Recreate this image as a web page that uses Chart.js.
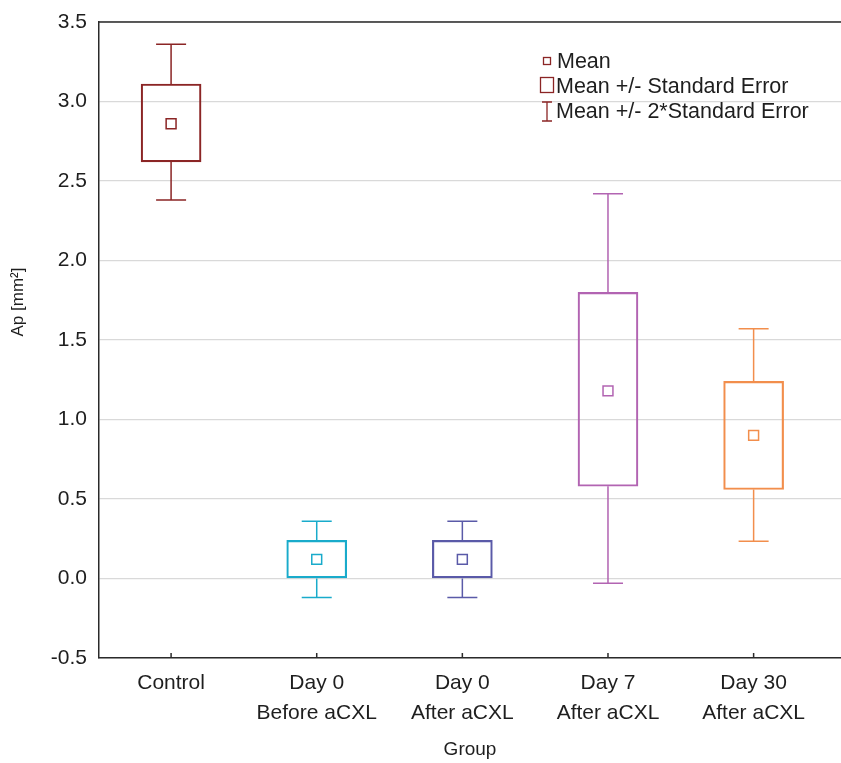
<!DOCTYPE html>
<html>
<head>
<meta charset="utf-8">
<script src="https://cdn.jsdelivr.net/npm/chart.js@4.4.1/dist/chart.umd.min.js"></script>
<style>
  html, body { margin: 0; padding: 0; background: #ffffff; overflow: hidden; }
  #wrap { width: 841px; height: 763px; position: relative; }
</style>
</head>
<body>
<div id="wrap"><canvas id="c" width="841" height="763"></canvas></div>
<script>
// ---- data ----
const categories = [['Control'], ['Day 0', 'Before aCXL'], ['Day 0', 'After aCXL'], ['Day 7', 'After aCXL'], ['Day 30', 'After aCXL']];
const means   = [2.86, 0.12, 0.12, 1.18, 0.90];
const seLow   = [2.62, 0.00, 0.00, 0.58, 0.56];
const seHigh  = [3.11, 0.24, 0.24, 1.80, 1.24];
const se2Low  = [2.38, -0.12, -0.12, -0.03, 0.235];
const se2High = [3.36, 0.36, 0.36, 2.42, 1.57];
const yTicks  = [-0.5, 0.0, 0.5, 1.0, 1.5, 2.0, 2.5, 3.0, 3.5];
const colors  = ['#8b2525', '#19abcb', '#5a5aa8', '#b264b2', '#f28e4c'];
const legendLabels = ['Mean', 'Mean +/- Standard Error', 'Mean +/- 2*Standard Error'];
const yTitle = 'Ap [mm²]';

const FONT = '"Liberation Sans", Arial, sans-serif';
const positions = categories.map((c, i) => i + 1);

const whiskerPlugin = {
  id: 'whiskers',
  beforeDatasetsDraw(chart) {
    const ctx = chart.ctx, xs = chart.scales.x, ys = chart.scales.y;
    ctx.save();
    ctx.lineWidth = 1.5;
    positions.forEach((p, i) => {
      const x = xs.getPixelForValue(p);
      const cap = 15;
      ctx.strokeStyle = colors[i];
      ctx.beginPath();
      ctx.moveTo(x, ys.getPixelForValue(seHigh[i]));
      ctx.lineTo(x, ys.getPixelForValue(se2High[i]));
      ctx.moveTo(x - cap, ys.getPixelForValue(se2High[i]));
      ctx.lineTo(x + cap, ys.getPixelForValue(se2High[i]));
      ctx.moveTo(x, ys.getPixelForValue(seLow[i]));
      ctx.lineTo(x, ys.getPixelForValue(se2Low[i]));
      ctx.moveTo(x - cap, ys.getPixelForValue(se2Low[i]));
      ctx.lineTo(x + cap, ys.getPixelForValue(se2Low[i]));
      ctx.stroke();
    });
    ctx.restore();
  },
  afterDraw(chart) {
    const ctx = chart.ctx, a = chart.chartArea, xs = chart.scales.x;
    ctx.save();
    // top frame line
    ctx.strokeStyle = '#2a2a2a';
    ctx.lineWidth = 1.5;
    ctx.beginPath();
    ctx.moveTo(a.left, a.top);
    ctx.lineTo(chart.width, a.top);
    ctx.stroke();
    // inward x tick marks
    ctx.beginPath();
    positions.forEach(p => {
      const x = xs.getPixelForValue(p);
      ctx.moveTo(x, a.bottom);
      ctx.lineTo(x, a.bottom - 5);
    });
    ctx.stroke();
    // y axis title
    ctx.save();
    ctx.translate(18, 302);
    ctx.rotate(-Math.PI / 2);
    ctx.fillStyle = '#1e1e1e';
    ctx.font = '17px ' + FONT;
    ctx.textAlign = 'center';
    ctx.textBaseline = 'middle';
    ctx.fillText(yTitle, 0, 0);
    ctx.restore();
    // legend
    const lc = colors[0];
    ctx.strokeStyle = lc;
    ctx.lineWidth = 1.3;
    ctx.strokeRect(543.5, 57.5, 7, 7);
    ctx.strokeRect(540.5, 77.5, 13, 15);
    ctx.beginPath();
    ctx.moveTo(542, 102); ctx.lineTo(552, 102);
    ctx.moveTo(547, 102); ctx.lineTo(547, 121);
    ctx.moveTo(542, 121); ctx.lineTo(552, 121);
    ctx.stroke();
    ctx.fillStyle = '#1e1e1e';
    ctx.font = '21.5px ' + FONT;
    ctx.textBaseline = 'alphabetic';
    ctx.textAlign = 'left';
    ctx.fillText(legendLabels[0], 557, 68);
    ctx.fillText(legendLabels[1], 556, 93);
    ctx.fillText(legendLabels[2], 556, 118);
    ctx.restore();
  }
};

new Chart(document.getElementById('c'), {
  data: {
    datasets: [
      {
        type: 'bar',
        label: 'SE',
        data: positions.map((p, i) => ({ x: p, y: [seLow[i], seHigh[i]] })),
        backgroundColor: 'rgba(0,0,0,0)',
        borderColor: colors,
        borderWidth: 1.5,
        borderSkipped: false,
        barThickness: 60,
        order: 2
      },
      {
        type: 'scatter',
        label: 'Mean',
        data: positions.map((p, i) => ({ x: p, y: means[i] })),
        pointStyle: 'rect',
        pointRadius: 7,
        pointHoverRadius: 7,
        pointBackgroundColor: '#ffffff',
        pointBorderColor: colors,
        pointBorderWidth: 1.5,
        order: 1
      }
    ]
  },
  options: {
    responsive: false,
    animation: false,
    events: [],
    layout: { autoPadding: false, padding: { left: 0, right: 0, top: 22, bottom: 0 } },
    plugins: { legend: { display: false }, tooltip: { enabled: false } },
    scales: {
      x: {
        type: 'linear',
        offset: false,
        min: 0.505,
        max: 5.6,
        afterBuildTicks(scale) { scale.ticks = positions.map(p => ({ value: p })); },
        afterFit(scale) { scale.height = 105; scale.paddingLeft = 0; scale.paddingRight = 0; },
        grid: { display: false, drawTicks: false, offset: false },
        border: { display: true, color: '#2a2a2a', width: 1.5 },
        ticks: {
          autoSkip: false,
          maxRotation: 0,
          padding: 10,
          color: '#1e1e1e',
          font: { family: FONT, size: 21, lineHeight: 1.45 },
          callback: (v) => categories[Math.round(v) - 1]
        },
        title: {
          display: true,
          text: 'Group',
          color: '#1e1e1e',
          font: { family: FONT, size: 19 },
          padding: { top: 0, bottom: 2 }
        }
      },
      y: {
        type: 'linear',
        min: -0.5,
        max: 3.5,
        afterBuildTicks(scale) { scale.ticks = yTicks.map(v => ({ value: v })); },
        afterFit(scale) { scale.width = 99; scale.paddingTop = 0; scale.paddingBottom = 0; },
        grid: { display: true, color: '#d9d9d9', lineWidth: 1.3, drawTicks: false },
        border: { display: true, color: '#2a2a2a', width: 1.5 },
        ticks: {
          padding: 12,
          color: '#1e1e1e',
          font: { family: FONT, size: 21 },
          callback: (v) => Number(v).toFixed(1)
        },
        title: { display: false }
      }
    }
  },
  plugins: [whiskerPlugin]
});
</script>
</body>
</html>
